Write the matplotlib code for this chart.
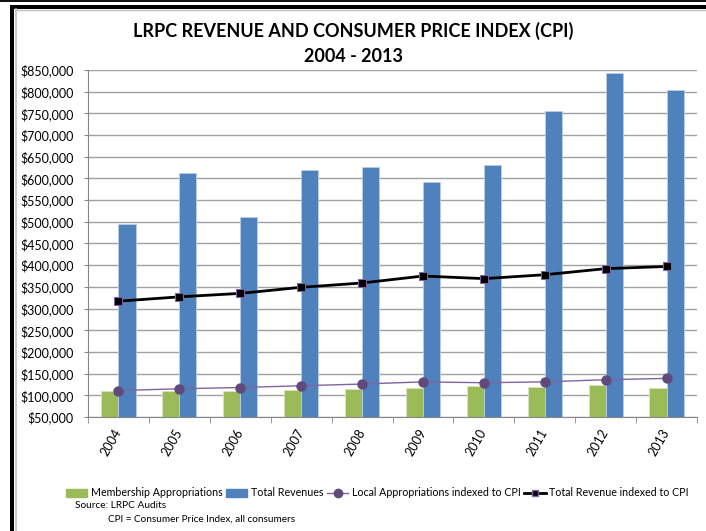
import matplotlib.pyplot as plt
from matplotlib.ticker import FuncFormatter, MultipleLocator, FixedLocator
from matplotlib.lines import Line2D
from matplotlib.patches import Rectangle, Patch
import numpy as np

plt.rcParams['font.family'] = ['Lato', 'DejaVu Sans']

years = ['2004', '2005', '2006', '2007', '2008', '2009', '2010', '2011', '2012', '2013']
membership = [109000, 109000, 109000, 112000, 115000, 117000, 121500, 120000, 123000, 117000]
total_revenues = [494000, 611500, 511500, 619000, 626000, 591000, 631500, 755000, 843000, 805000]
local_cpi = [111000, 115000, 118000, 122000, 126000, 131000, 129000, 131000, 136000, 139000]
total_cpi = [317000, 327000, 335000, 349000, 359000, 375000, 369000, 378000, 392000, 397000]

W, H = 706, 531
fig = plt.figure(figsize=(W / 100, H / 100), dpi=100)

def fx(px):
    return px / W

def fy(py):
    return 1 - py / H

ax = fig.add_axes([fx(88), fy(417), fx(697) - fx(88), fy(70) - fy(417)])

x = np.arange(len(years))
bw = 0.28
ax.bar(x - bw / 2, membership, bw, color='#9BBB59', edgecolor='#D7E4BD', linewidth=0.6, zorder=2)
ax.bar(x + bw / 2, total_revenues, bw, color='#4F81BD', edgecolor='#B9CDE5', linewidth=0.6, zorder=2)
ax.plot(x, local_cpi, color='#8064A2', lw=1, marker='o', ms=6.5,
        mfc='#604A7B', mec='#604A7B', zorder=3)
ax.plot(x, total_cpi, color='black', lw=2, marker='s', ms=5.5,
        mfc='black', mec='#8064A2', mew=0.8, zorder=4)

ax.set_xlim(-0.5, len(years) - 0.5)
ax.set_ylim(50000, 850000)
ax.yaxis.set_major_locator(MultipleLocator(50000))
ax.yaxis.set_major_formatter(FuncFormatter(lambda v, p: '${:,.0f}'.format(v)))
ax.grid(axis='y', color='#A0A0A0', lw=1, zorder=0)
ax.set_axisbelow(True)

ax.set_xticks(x)
ax.set_xticklabels(years, rotation=60, ha='right', va='center', rotation_mode='anchor')
ax.xaxis.set_minor_locator(FixedLocator(np.arange(-0.5, len(years), 1)))
ax.tick_params(axis='x', which='major', length=0, pad=9, labelsize=9)
ax.tick_params(axis='x', which='minor', length=4, color='#868686')
ax.tick_params(axis='y', length=3, color='#868686', labelsize=9, pad=7.5)

for s in ['top', 'right']:
    ax.spines[s].set_visible(False)
for s in ['left', 'bottom']:
    ax.spines[s].set_color('#868686')

fig.text(0.5, fy(31), 'LRPC REVENUE AND CONSUMER PRICE INDEX (CPI)',
         ha='center', va='center', fontsize=13, fontweight='bold')
fig.text(0.5, fy(57), '2004 - 2013', ha='center', va='center', fontsize=13, fontweight='bold')

handles = [
    Patch(facecolor='#9BBB59', edgecolor='#9BBB59'),
    Patch(facecolor='#4F81BD', edgecolor='#4F81BD'),
    Line2D([], [], color='#8064A2', lw=1, marker='o', ms=6, mfc='#604A7B', mec='#604A7B'),
    Line2D([], [], color='black', lw=2, marker='s', ms=5, mfc='black', mec='#8064A2'),
]
labels = ['Membership Appropriations', 'Total Revenues',
          'Local Appropriations indexed to CPI', 'Total Revenue indexed to CPI']
fig.legend(handles, labels, loc='center left', bbox_to_anchor=(fx(66), fy(493)),
           ncol=4, frameon=False, fontsize=7.7, handlelength=2.0, handleheight=0.7,
           handletextpad=0.3, columnspacing=0.35, borderaxespad=0, borderpad=0)

fig.text(fx(75), fy(506), 'Source: LRPC Audits', ha='left', va='center', fontsize=7.3)
fig.text(fx(108), fy(519), 'CPI = Consumer Price Index, all consumers',
         ha='left', va='center', fontsize=7.2)

# outer frame of the cropped chart
fig.add_artist(Rectangle((0, fy(1.5)), 1, fy(0) - fy(1.5), transform=fig.transFigure,
                         color='#111111', lw=0))
fig.add_artist(Rectangle((fx(10), fy(9)), 1, fy(5) - fy(9), transform=fig.transFigure,
                         color='black', lw=0))
fig.add_artist(Rectangle((fx(10), 0), fx(14) - fx(10), fy(5), transform=fig.transFigure,
                         color='black', lw=0))
fig.add_artist(Line2D([fx(15.5), fx(15.5)], [0, fy(9)], transform=fig.transFigure,
                      color='#C0C0C0', lw=1.2))
fig.add_artist(Line2D([fx(15), 1], [fy(9.5), fy(9.5)], transform=fig.transFigure,
                      color='#C0C0C0', lw=1))

fig.savefig('out.png', dpi=100)
